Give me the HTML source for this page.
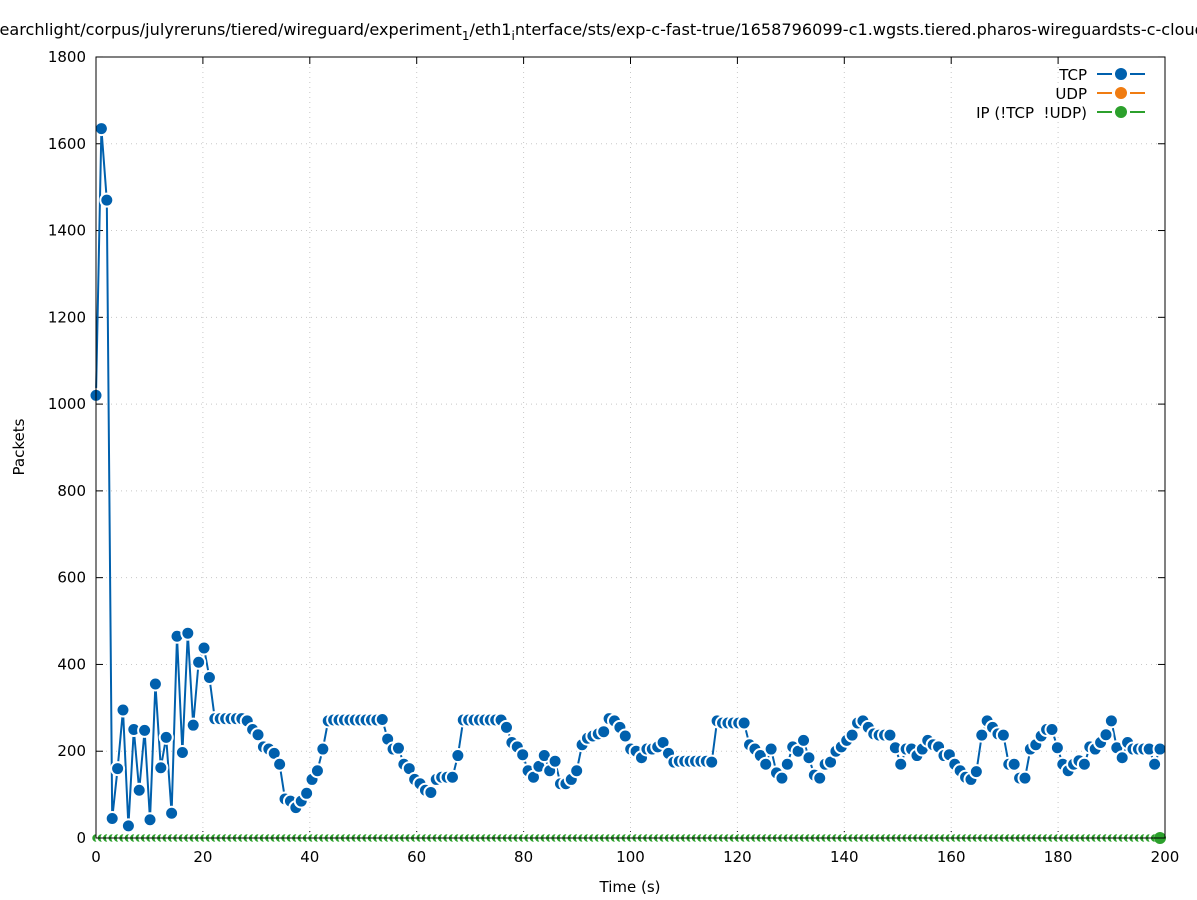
<!DOCTYPE html>
<html><head><meta charset="utf-8"><style>
body{margin:0;background:#fff}
svg{display:block;font-family:"DejaVu Sans","Liberation Sans",sans-serif}
</style></head><body>
<svg id="s" width="1197" height="900" viewBox="0 0 1197 900" xmlns="http://www.w3.org/2000/svg">
<rect width="1197" height="900" fill="#fff"/>
<text x="598" y="35" font-size="16.1" text-anchor="middle">searchlight/corpus/julyreruns/tiered/wireguard/experiment<tspan font-size="12" dy="5">1</tspan><tspan dy="-5">/eth1</tspan><tspan font-size="12" dy="5">i</tspan><tspan dy="-5">nterface/sts/exp-c-fast-true/1658796099-c1.wgsts.tiered.pharos-wireguardsts-c-cloud</tspan></text>
<g id="grid" stroke="#c8c8c8" stroke-dasharray="1,4" stroke-width="1"></g>
<g id="ticks" stroke="#000" stroke-width="1"></g>
<g id="labels" font-size="15"></g>
<text x="630" y="892" font-size="15" text-anchor="middle">Time (s)</text>
<text transform="translate(24,447) rotate(-90)" font-size="15" text-anchor="middle">Packets</text>
<g id="green"></g>
<g id="tcp"></g>
<rect x="96" y="57" width="1069" height="781" fill="none" stroke="#000" stroke-width="1"/>
<g id="leg" font-size="15">
<text x="1087" y="80" text-anchor="end">TCP</text>
<text x="1087" y="99" text-anchor="end">UDP</text>
<text x="1087" y="118" text-anchor="end">IP (!TCP&#160;&#160;!UDP)</text>
<line x1="1097" x2="1145" y1="74" y2="74" stroke="#0060ad" stroke-width="2"/>
<line x1="1112" x2="1130" y1="74" y2="74" stroke="#fff" stroke-width="4"/>
<circle cx="1121" cy="74" r="6" fill="#0060ad"/>
<line x1="1097" x2="1145" y1="93" y2="93" stroke="#f07c11" stroke-width="2"/>
<line x1="1112" x2="1130" y1="93" y2="93" stroke="#fff" stroke-width="4"/>
<circle cx="1121" cy="93" r="6" fill="#f07c11"/>
<line x1="1097" x2="1145" y1="112" y2="112" stroke="#2ca02c" stroke-width="2"/>
<line x1="1112" x2="1130" y1="112" y2="112" stroke="#fff" stroke-width="4"/>
<circle cx="1121" cy="112" r="6" fill="#2ca02c"/>
</g>
</svg>
<script>
var NS="http://www.w3.org/2000/svg";
function el(p,t,a){var e=document.createElementNS(NS,t);for(var k in a)e.setAttribute(k,a[k]);document.getElementById(p).appendChild(e);return e;}
var Xs=function(t){return 96+t*5.345;},Y=function(v){return 838-v*0.4339;};
for(var v=0;v<=1800;v+=200){var y=Y(v);
 if(v>0&&v<1800)el("grid","line",{x1:96,x2:1165,y1:y,y2:y});
 el("ticks","line",{x1:96,x2:103,y1:y,y2:y});el("ticks","line",{x1:1158,x2:1165,y1:y,y2:y});
 var t=el("labels","text",{x:86,y:y+5,"text-anchor":"end"});t.textContent=v;}
for(var s=0;s<=200;s+=20){var x=Xs(s);
 if(s>0&&s<200)el("grid","line",{x1:x,x2:x,y1:57,y2:838});
 el("ticks","line",{x1:x,x2:x,y1:838,y2:831});el("ticks","line",{x1:x,x2:x,y1:57,y2:64});
 var t=el("labels","text",{x:x,y:862,"text-anchor":"middle"});t.textContent=s;}
var d=[1020,1635,1470,45,160,295,28,250,110,248,42,355,162,232,57,465,197,472,260,405,438,370,275,275,275,275,275,275,270,250,238,210,205,195,170,90,85,70,85,103,135,155,205,270,272,272,272,272,272,272,272,272,272,273,228,205,207,170,160,135,125,110,105,135,140,140,140,190,272,272,272,272,272,272,272,272,255,220,210,192,155,140,165,190,155,177,125,125,135,155,215,230,235,240,245,275,270,255,235,205,200,185,205,205,210,220,195,175,177,177,177,177,177,177,175,270,265,265,265,265,265,215,205,190,170,205,150,138,170,210,200,225,185,145,138,170,175,200,210,225,237,265,270,255,240,237,237,237,208,170,205,205,190,205,225,215,210,190,192,170,155,140,135,153,237,270,255,240,237,170,170,138,138,205,215,235,250,250,208,170,155,170,178,170,210,205,220,238,270,208,185,220,205,205,205,205,170,205];
var n=d.length,X=function(i){return 96+i*(1064/(n-1));};
var pts=d.map(function(v,i){return X(i).toFixed(1)+","+Y(v).toFixed(1)}).join(" ");
el("tcp","polyline",{points:pts,fill:"none",stroke:"#0060ad","stroke-width":2});
d.forEach(function(v,i){el("tcp","circle",{cx:X(i),cy:Y(v),r:6.5,fill:"#0060ad",stroke:"#fff","stroke-width":2});});
for(var i=0;i<n;i++){el("green","circle",{cx:X(i),cy:838,r:5,fill:"#2ca02c",stroke:"#fff","stroke-width":2.5});}
el("green","circle",{cx:X(n-1),cy:838,r:6,fill:"#2ca02c"});
</script>
</body></html>
